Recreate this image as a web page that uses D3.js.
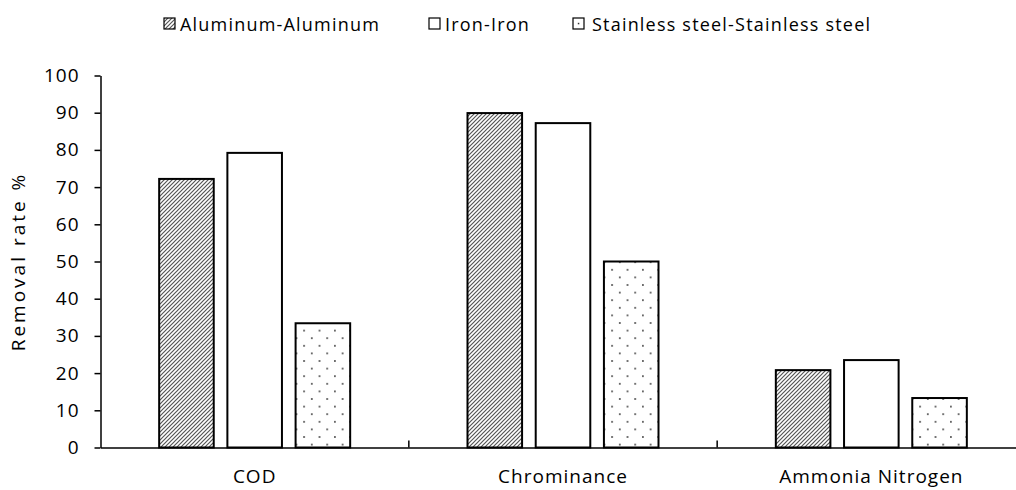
<!DOCTYPE html>
<meta charset="utf-8" />
<script src="https://d3js.org/d3.v7.min.js"></script>
<style>
  body { margin: 0; background: #fff; }
  text { font-family: 'Open Sans', sans-serif; font-size: 19px; letter-spacing: 1px; fill: #000; }
  .legend text { font-size: 18px; letter-spacing: 1.2px; }
  .ytitle { letter-spacing: 3px; }
</style>
<div id="chart"></div>
<script>
  // data
  const categories = ['COD', 'Chrominance', 'Ammonia Nitrogen'];
  const seriesNames = ['Aluminum-Aluminum', 'Iron-Iron', 'Stainless steel-Stainless steel'];
  const aluminum = [72.2, 89.9, 20.8];
  const iron = [79.2, 87.2, 23.5];
  const stainless = [33.4, 50.0, 13.3];
  const yTicks = [0, 10, 20, 30, 40, 50, 60, 70, 80, 90, 100];

  const width = 1016, height = 490;
  const margin = { left: 100.5, right: 1025.5, bottom: 447.5, top: 75.5 };

  const svg = d3.select('#chart').append('svg')
    .attr('width', width)
    .attr('height', height);

  // fill patterns
  const defs = svg.append('defs');
  const hatch = defs.append('pattern')
    .attr('id', 'hatch')
    .attr('patternUnits', 'userSpaceOnUse')
    .attr('width', 4).attr('height', 4);
  hatch.append('rect').attr('width', 4).attr('height', 4).attr('fill', '#fff');
  hatch.append('path')
    .attr('d', 'M-1,1 l2,-2 M0,4 l4,-4 M3,5 l2,-2')
    .attr('stroke', '#555')
    .attr('stroke-width', 1.2);

  const dots = defs.append('pattern')
    .attr('id', 'dots')
    .attr('patternUnits', 'userSpaceOnUse')
    .attr('width', 15.4).attr('height', 15.2);
  dots.append('rect').attr('width', 15.4).attr('height', 15.2).attr('fill', '#fff');
  dots.append('rect').attr('x', 3).attr('y', 3).attr('width', 1.6).attr('height', 1.6).attr('fill', '#333');
  dots.append('rect').attr('x', 10.7).attr('y', 10.6).attr('width', 1.6).attr('height', 1.6).attr('fill', '#333');

  const fills = ['url(#hatch)', '#fff', 'url(#dots)'];
  const values = [aluminum, iron, stainless];

  // scales
  const x0 = d3.scaleBand().domain(categories).range([margin.left, margin.right]).padding(0);
  const x1 = d3.scaleBand().domain(seriesNames).range([0, x0.bandwidth()])
    .paddingInner(0.2).paddingOuter(0.86);
  const y = d3.scaleLinear().domain([0, 100]).range([margin.bottom, margin.top]);

  // bars
  const rows = [];
  categories.forEach((c, i) => {
    seriesNames.forEach((s, j) => {
      rows.push({ cat: c, series: s, value: values[j][i], fill: fills[j] });
    });
  });

  svg.append('g')
    .selectAll('rect')
    .data(rows)
    .join('rect')
    .attr('x', d => x0(d.cat) + x1(d.series))
    .attr('y', d => y(d.value))
    .attr('width', x1.bandwidth())
    .attr('height', d => y(0) - y(d.value))
    .attr('fill', d => d.fill)
    .attr('stroke', '#000')
    .attr('stroke-width', 2);

  // y axis
  const yAxis = svg.append('g')
    .attr('transform', `translate(${margin.left},0)`)
    .call(d3.axisLeft(y).tickValues(yTicks).tickSize(6).tickSizeOuter(0).tickPadding(15));
  yAxis.select('.domain').attr('stroke', '#000').attr('stroke-width', 1.5);
  yAxis.selectAll('.tick line').attr('stroke', '#000').attr('stroke-width', 1.5);
  yAxis.selectAll('text').attr('font-size', null).attr('font-family', null);

  // x axis
  const xAxis = svg.append('g')
    .attr('transform', `translate(0,${margin.bottom})`)
    .call(d3.axisBottom(x0).tickSize(0).tickSizeOuter(0));
  xAxis.select('.domain').attr('stroke', '#000').attr('stroke-width', 1.5);
  xAxis.selectAll('text')
    .attr('font-size', null).attr('font-family', null)
    .attr('y', 35.5).attr('dy', 0);

  // boundary ticks between categories
  svg.append('g')
    .selectAll('line')
    .data(categories.slice(1))
    .join('line')
    .attr('x1', d => x0(d)).attr('x2', d => x0(d))
    .attr('y1', margin.bottom).attr('y2', margin.bottom - 7)
    .attr('stroke', '#000').attr('stroke-width', 1.5);

  // y axis title
  svg.append('text')
    .attr('class', 'ytitle')
    .attr('transform', `translate(25,${(margin.top + margin.bottom) / 2}) rotate(-90)`)
    .attr('text-anchor', 'middle')
    .text('Removal rate %');

  // legend
  const legendX = [164, 429, 573];
  const legendGap = [16, 16, 19];
  const legend = svg.append('g').attr('class', 'legend');
  seriesNames.forEach((s, j) => {
    const g = legend.append('g').attr('transform', `translate(${legendX[j]},18)`);
    g.append('rect')
      .attr('width', 11).attr('height', 11)
      .attr('fill', j === 0 ? 'url(#hatch)' : '#fff')
      .attr('stroke', '#000').attr('stroke-width', 1.2);
    if (j === 2) {
      g.append('rect').attr('x', 4.8).attr('y', 4.8).attr('width', 1.5).attr('height', 1.5).attr('fill', '#333');
    }
    g.append('text').attr('x', legendGap[j]).attr('y', 12.5).text(s);
  });
</script>
